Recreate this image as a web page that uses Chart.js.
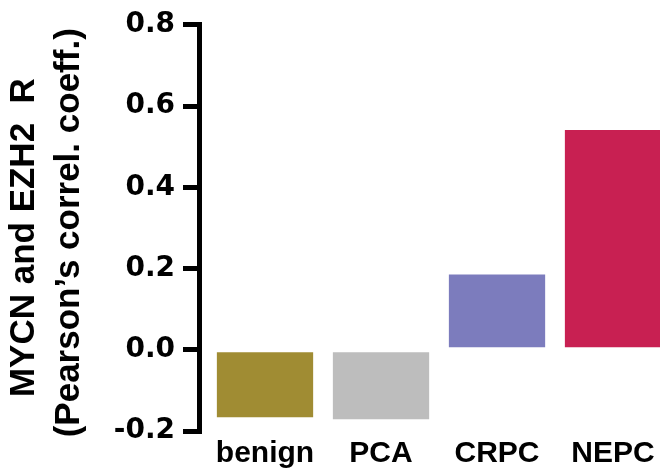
<!DOCTYPE html>
<html>
<head>
<meta charset="utf-8">
<script src="https://cdn.jsdelivr.net/npm/chart.js@4.4.1/dist/chart.umd.min.js"></script>
<style>
  html, body { margin: 0; padding: 0; background: #ffffff; overflow: hidden; }
  #wrap { width: 660px; height: 475px; }
</style>
</head>
<body>
<div id="wrap"><canvas id="c" width="660" height="475"></canvas></div>
<script>
// ---- data ----
const categories = ["benign", "PCA", "CRPC", "NEPC"];
const positions = [0, 1, 2, 3];
const correlation = [-0.166, -0.171, 0.185, 0.541];
const barColors = ["#a08c33", "#bdbdbd", "#7c7cbd", "#c82052"];
const yTicks = [-0.2, 0.0, 0.2, 0.4, 0.6, 0.8];
const yTitle = ["MYCN and EZH2  R  ", "(Pearson\u2019s correl. coeff.) "];

const points = positions.map((p, i) => ({ x: p, y: correlation[i] }));

new Chart(document.getElementById("c"), {
  type: "bar",
  data: {
    datasets: [{
      data: points,
      backgroundColor: barColors,
      borderWidth: 0,
      categoryPercentage: 1.0,
      barPercentage: 0.83
    }]
  },
  options: {
    responsive: false,
    animation: false,
    devicePixelRatio: 1,
    layout: { padding: { top: 21, right: 0, bottom: 0, left: 0 } },
    plugins: { legend: { display: false }, tooltip: { enabled: false } },
    scales: {
      x: {
        type: "linear",
        position: "bottom",
        offset: false,
        min: -0.569,
        max: 3.405,
        grid: { display: false, offset: false },
        border: { display: false },
        afterFit: (s) => { s.height = 44; },
        ticks: {
          stepSize: 1,
          includeBounds: false,
          autoSkip: false,
          maxRotation: 0,
          minRotation: 0,
          padding: -3,
          color: "#000",
          font: { family: "'Liberation Sans', Arial, Helvetica, sans-serif", size: 30, weight: "bold" },
          callback: (v) => {
            const i = positions.indexOf(v);
            return i >= 0 ? categories[i] : "";
          }
        }
      },
      y: {
        type: "linear",
        position: "left",
        min: yTicks[0],
        max: yTicks[yTicks.length - 1],
        afterFit: (s) => { s.width = 199; },
        afterBuildTicks: (s) => { s.ticks = yTicks.map(v => ({ value: v })); },
        grid: {
          display: true,
          drawOnChartArea: false,
          drawTicks: true,
          tickLength: 16,
          tickWidth: 5,
          tickColor: "#000",
          color: "#000",
          lineWidth: 5
        },
        border: { display: true, color: "#000", width: 5 },
        ticks: {
          padding: 8,
          color: "#000",
          font: { family: "'DejaVu Sans', sans-serif", size: 28, weight: "bold" },
          callback: (v) => v.toFixed(1)
        },
        title: {
          display: true,
          text: yTitle,
          color: "#000",
          padding: { top: 2, bottom: 0 },
          font: { family: "'Liberation Sans', Arial, Helvetica, sans-serif", size: 35, weight: "bold", lineHeight: 1.29 }
        }
      }
    }
  }
});
</script>
</body>
</html>
